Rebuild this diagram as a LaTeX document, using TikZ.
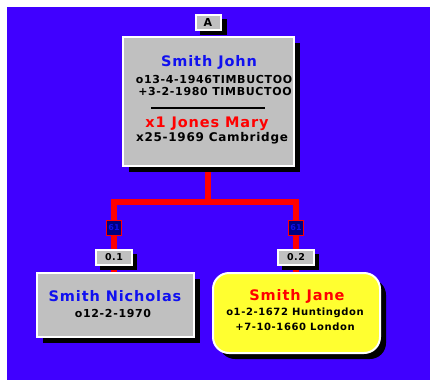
\documentclass[tikz,border=0pt]{standalone}
\usepackage{fontspec}
\setmainfont{DejaVu Sans}
\newfontfamily\widefont[LetterSpace=6]{DejaVu Sans}
\definecolor{bgblue}{HTML}{4000FF}
\definecolor{boxgray}{HTML}{C0C0C0}
\definecolor{navy}{HTML}{000080}
\definecolor{tblue}{HTML}{1010F0}
\definecolor{tred}{HTML}{FF0000}
\definecolor{yel}{HTML}{FFFF30}
\tikzset{
  panel/.style={draw=white, line width=2pt, fill=boxgray},
  redlink/.style={draw=red, line width=6pt},
  badgebox/.style={draw=red, line width=1pt, fill=navy, minimum width=15pt, minimum height=15pt, inner sep=0pt, font=\bfseries\fontsize{8}{8}\selectfont, text=tblue},
  tagbox/.style={draw=white, line width=2pt, fill=boxgray, minimum width=36pt, minimum height=15pt, inner sep=0pt, font=\widefont\bfseries\fontsize{9.5}{9.5}\selectfont},
  pname/.style={font=\widefont\bfseries\fontsize{14.5}{14.5}\selectfont, inner sep=0pt},
  pinfo/.style={font=\widefont\bfseries\fontsize{11}{11}\selectfont, inner sep=0pt},
}
\begin{document}
\begin{tikzpicture}[x=1pt,y=-1pt]
\useasboundingbox (0,0) rectangle (430,380);
\fill[white] (0,0) rectangle (430,380);
\fill[bgblue] (7,7) rectangle (430,380);
% connectors
\coordinate (top) at (208,166);
\coordinate (mid) at (208,202);
\coordinate (l) at (114,202);
\coordinate (r) at (296,202);
\coordinate (lb) at (114,273);
\coordinate (rb) at (296,273);
\draw[redlink] (top) -- (mid);
\draw[redlink] ([xshift=-3pt]l) -- ([xshift=3pt]r);
\draw[redlink] ([yshift=-3pt]l) -- (lb);
\draw[redlink] ([yshift=-3pt]r) -- (rb);
% badges
\node[badgebox] (b1) at (114,228) {61};
\node[badgebox] (b2) at (296,228) {61};
% A tag
\fill[black] (200,19) rectangle (227,35);
\node[tagbox, minimum width=25pt, minimum height=15pt, font=\widefont\bfseries\fontsize{11}{11}\selectfont] (atag) at (208,22) {A};
% top box
\fill[black] (129,43) rectangle (300,172);
\draw[panel] (123,37) rectangle (294,166);
\node[pname, text=tblue] (n1) at (209,62) {Smith John};
\node[pinfo] (n2) at (214,79) {o13-4-1946TIMBUCTOO};
\node[pinfo] (n3) at (215,91) {+3-2-1980 TIMBUCTOO};
\draw[black, line width=1.5pt] (151,108) -- (265,108);
\node[pname, text=tred] (n4) at (207,124) {x1 Jones Mary};
\node[pinfo, font=\widefont\bfseries\fontsize{12}{12}\selectfont] (n5) at (212,138) {x25-1969 Cambridge};
% tags
\fill[black] (100,254) rectangle (137,270);
\node[tagbox] (t1) at (114,257) {0.1};
\fill[black] (282,254) rectangle (319,270);
\node[tagbox] (t2) at (296,257) {0.2};
% left child
\fill[black] (43,279) rectangle (200,343);
\draw[panel] (37,273) rectangle (194,337);
\node[pname, text=tblue] (c1) at (115,296) {Smith Nicholas};
\node[pinfo] (c2) at (113,313) {o12-2-1970};
% right child
\fill[black, rounded corners=16pt] (219,279) rectangle (386,359);
\draw[draw=white, line width=2pt, fill=yel, rounded corners=16pt] (213,273) rectangle (380,353);
\node[pname, text=tred] (d1) at (297,296) {Smith Jane};
\node[pinfo, font=\widefont\bfseries\fontsize{10}{10}\selectfont] (d2) at (295,313) {o1-2-1672 Huntingdon};
\node[pinfo, font=\widefont\bfseries\fontsize{10}{10}\selectfont] (d3) at (295,327) {+7-10-1660 London};
\end{tikzpicture}
\end{document}
